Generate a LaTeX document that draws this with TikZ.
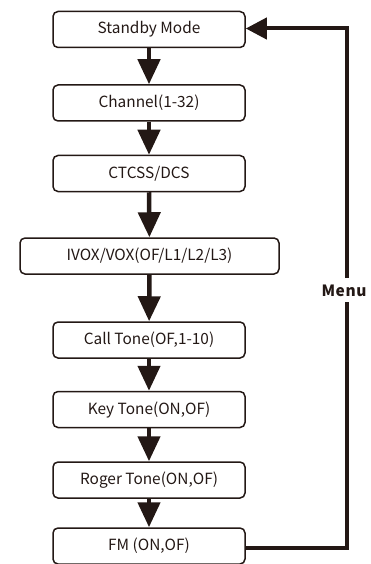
\documentclass[tikz,border=0pt]{standalone}
\usepackage{fontspec}
\setmainfont{Noto Sans CJK SC}
\usetikzlibrary{arrows.meta}
\definecolor{ink}{HTML}{231815}
\tikzset{
  stepbox/.style={draw=ink, line width=1.5pt, rounded corners=5pt, minimum width=192pt, minimum height=36pt, inner sep=0pt, font=\fontsize{15.4pt}{17pt}\selectfont, text=ink},
  flow/.style={draw=ink, line width=4.5pt, -{Triangle[width=22pt,length=25pt]}},
  loop/.style={draw=ink, line width=4pt},
}
\begin{document}
\begin{tikzpicture}[x=1pt,y=-1pt]
\useasboundingbox (0,0) rectangle (370,564);
\node[stepbox] (s1) at (149,29.5) {Standby Mode};
\node[stepbox] (s2) at (149,103) {Channel(1-32)};
\node[stepbox] (s3) at (149,173.5) {CTCSS/DCS};
\node[stepbox, minimum width=259pt] (s4) at (149.5,256) {IVOX/VOX(OF/L1/L2/L3)};
\node[stepbox] (s5) at (149,340) {Call Tone(OF,1-10)};
\node[stepbox] (s6) at (149,409.5) {Key Tone(ON,OF)};
\node[stepbox] (s7) at (149,480) {Roger Tone(ON,OF)};
\node[stepbox] (s8) at (149,546) {FM (ON,OF)};
\draw[flow] (s1) -- (s2);
\draw[flow] (s2) -- (s3);
\draw[flow] (s3) -- (s4);
\draw[flow] (s4) -- (s5);
\draw[flow] (s5) -- (s6);
\draw[flow] (s6) -- (s7);
\draw[flow] (s7) -- (s8);
\node[font=\bfseries\fontsize{15.5pt}{17pt}\selectfont, text=ink, inner sep=0pt] (menu) at (344,291) {M\kern0.6pt e\kern0.6pt n\kern0.6pt u};
\coordinate (c1) at (347,548);
\coordinate (g1) at (347,302);
\coordinate (g2) at (347,278);
\coordinate (c2) at (347,28.5);
\draw[loop] (s8.east |- c1) -- (c1) -- (g1);
\draw[loop, -{Triangle[width=21pt,length=21pt]}] (g2) -- (c2) -- (s1.east |- c2);
\end{tikzpicture}
\end{document}
